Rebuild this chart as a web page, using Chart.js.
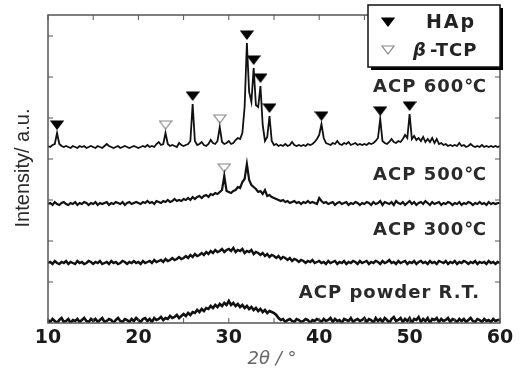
<!DOCTYPE html>
<html>
<head>
  <title>XRD patterns of ACP</title>
  <style>
    body { margin: 0; background: #fff; }
    #xrd { display: block; }
  </style>
</head>
<body>
<canvas id="xrd" width="525" height="372"></canvas>
<script src="https://cdn.jsdelivr.net/npm/chart.js"></script>
<script>
// ---------------- data (intensities, arbitrary units) ----------------
var twoThetaStart = 10;
var twoThetaStep = 0.25;

var seriesNames = ['ACP powder R.T.', 'ACP 300\u2103', 'ACP 500\u2103', 'ACP 600\u2103'];
var offsets = [2, 60, 119, 176];

var acpRT = [
  1,-1,2,0,-2,1,3,-1,0,2,-2,1,0,2,-1,1,3,0,-1,2,
  0,2,-1,1,3,-1,0,2,1,-2,1,3,0,-1,2,1,-1,2,0,3,
  1,-1,2,3,0,2,-1,3,1,2,4,1,3,2,5,3,4,6,3,5,
  7,5,8,6,9,8,11,9,12,10,13,12,15,13,16,14,17,15,18,16,
  20,16,18,15,17,14,16,13,15,12,14,11,13,10,12,9,11,8,10,9,
  8,6,3,1,2,-1,1,2,0,-1,2,1,-1,0,2,1,-2,1,0,2,
  1,-1,2,0,1,3,-1,2,0,1,-2,2,1,0,3,-1,1,2,0,1,
  3,-1,2,1,-2,3,0,2,-1,3,1,-2,2,4,0,1,3,-1,2,0,
  3,-2,2,1,4,-1,2,0,3,-2,2,1,3,-1,2,0,1,3,-1,2,
  1,-1,2,0,2,-1,1,3,0,-1,2,1,-1,2,0,1,-1,2,0,1,
  1
];

var acp300 = [
  0,1,-1,2,0,-1,1,0,2,-1,1,0,-1,2,0,1,-1,0,2,1,
  -1,1,0,2,-1,0,1,-1,2,0,1,-1,0,2,1,-1,1,0,2,0,
  1,-1,2,0,1,2,0,3,1,2,3,1,4,2,3,5,3,4,6,4,
  5,7,5,8,6,9,7,8,10,8,11,9,12,10,13,11,12,14,11,13,
  14,12,15,11,13,12,14,10,12,11,13,9,11,10,8,10,7,9,6,8,
  7,5,7,4,6,5,3,5,2,4,3,1,3,2,0,2,1,3,0,1,
  2,0,1,-1,2,0,1,2,-1,1,0,2,-1,1,0,2,1,-1,2,0,
  1,2,-1,1,0,2,1,-1,2,0,1,3,0,1,-1,2,0,1,2,-1,
  1,0,2,-1,1,2,0,1,-1,2,0,1,-1,2,1,0,2,-1,1,0,
  2,-1,1,0,2,1,-1,1,0,2,-1,1,0,1,-1,2,0,1,-1,1,
  0
];

var acp500 = [
  0,1,-1,2,0,-1,1,2,0,-1,1,0,2,-1,1,0,2,1,-1,1,
  0,2,-1,1,0,1,2,-1,1,0,2,1,0,2,-1,1,2,0,1,2,
  1,0,2,1,3,1,2,0,3,2,1,3,2,4,2,3,5,3,4,3,
  5,4,6,4,7,5,7,8,6,8,9,7,10,9,11,10,12,14,28,13,
  12,11,13,14,17,16,22,25,40,24,19,17,15,12,13,10,14,8,9,7,
  6,5,4,3,4,2,3,1,2,3,1,2,0,2,1,3,1,2,1,0,
  6,3,1,2,0,1,2,-1,1,2,0,1,2,-1,1,0,2,1,-1,1,
  0,2,1,-1,2,0,1,3,-1,2,1,0,2,-1,3,1,0,2,-1,1,
  3,0,2,-1,1,2,0,3,1,-1,2,0,1,2,-1,1,0,2,1,-1,
  1,0,2,-1,1,0,2,1,-1,1,0,2,0,1,-1,2,0,1,0,1,
  1
];

var acp600 = [
  1,0,2,3,14,3,1,0,1,0,-1,1,0,-1,1,0,1,-1,0,1,
  0,-1,1,0,-1,1,3,1,0,-1,0,1,-1,0,1,0,-1,0,1,0,
  -1,0,1,0,2,0,1,0,3,5,2,3,14,3,1,2,1,0,4,2,
  1,2,3,6,43,6,2,3,5,2,1,3,7,4,3,6,20,5,3,4,
  6,3,4,7,9,8,14,40,104,55,45,79,42,40,61,22,6,10,31,6,
  2,3,1,2,1,3,1,2,5,2,1,2,1,2,1,3,2,3,5,8,
  12,23,9,4,3,2,4,3,6,3,2,4,3,5,2,3,4,2,3,2,
  3,2,4,3,4,6,9,28,6,4,3,5,8,5,4,6,5,8,12,9,
  33,8,11,7,9,6,10,5,8,5,9,4,8,3,4,2,3,1,2,1,
  2,1,4,1,2,0,1,3,1,0,1,0,2,0,1,0,1,0,1,0,
  1
];

// reflection positions (2theta) marked on the picture
var hapPeaks = [11, 26, 32, 32.75, 33.5, 34.5, 40.25, 46.75, 50];
var tcpPeaks600 = [23, 29];
var tcpPeaks500 = [29.5];

var xTicks = [10, 20, 30, 40, 50, 60];
// ------------------------------------------------------------------------------------------

function toPoints(vals, off) {
  return vals.map(function (v, i) {
    return { x: twoThetaStart + i * twoThetaStep, y: v + off };
  });
}

function markerPoints(peaks, vals, off) {
  return peaks.map(function (p) {
    var i = Math.round((p - twoThetaStart) / twoThetaStep);
    return { x: p, y: vals[i] + off + 8 };
  });
}

function makeTri(fill, stroke) {
  var c = document.createElement('canvas');
  c.width = 14; c.height = 10;
  var g = c.getContext('2d');
  g.beginPath();
  g.moveTo(1, 1); g.lineTo(13, 1); g.lineTo(7, 9); g.closePath();
  g.fillStyle = fill; g.fill();
  g.lineWidth = 1.2; g.strokeStyle = stroke; g.stroke();
  return c;
}

var triFilled = makeTri('#000', '#000');
var triOpen = makeTri('#fff', '#888');

var lineWidths = [2.6, 2.4, 2.2, 1.8];
var allSeries = [acpRT, acp300, acp500, acp600];
var datasets = allSeries.map(function (vals, k) {
  return {
    label: seriesNames[k],
    data: toPoints(vals, offsets[k]),
    borderColor: '#111',
    borderWidth: lineWidths[k],
    pointRadius: 0,
    tension: 0
  };
});

datasets.push({
  label: 'HAp', type: 'scatter', showLine: false,
  data: markerPoints(hapPeaks, acp600, offsets[3]),
  pointStyle: triFilled, pointRadius: 7
});
datasets.push({
  label: 'beta-TCP', type: 'scatter', showLine: false,
  data: markerPoints(tcpPeaks600, acp600, offsets[3]).concat(markerPoints(tcpPeaks500, acp500, offsets[2])),
  pointStyle: triOpen, pointRadius: 7
});

// label heights above each baseline, right edges
var labelRise = [28, 33, 29, 60];
var labelRight = [480, 487, 487, 487];

var overlay = {
  id: 'overlay',
  afterDraw: function (chart) {
    var ctx = chart.ctx, a = chart.chartArea;
    var xs = chart.scales.x, ys = chart.scales.y;
    ctx.save();

    // frame + inward ticks
    ctx.strokeStyle = '#555';
    ctx.lineWidth = 1.5;
    ctx.strokeRect(a.left, a.top, a.right - a.left, a.bottom - a.top);
    ctx.lineWidth = 1;
    xs.ticks.forEach(function (t) {
      var px = xs.getPixelForValue(t.value);
      ctx.beginPath();
      ctx.moveTo(px, a.bottom); ctx.lineTo(px, a.bottom - 5);
      ctx.moveTo(px, a.top); ctx.lineTo(px, a.top + 5);
      ctx.stroke();
    });
    ys.ticks.forEach(function (t) {
      if (t.value <= ys.min || t.value >= ys.max) return;
      var py = ys.getPixelForValue(t.value);
      ctx.beginPath();
      ctx.moveTo(a.left, py); ctx.lineTo(a.left + 5, py);
      ctx.moveTo(a.right, py); ctx.lineTo(a.right - 5, py);
      ctx.stroke();
    });

    // series labels
    ctx.fillStyle = '#2a2a2a';
    ctx.font = 'bold 18px "DejaVu Sans"';
    ctx.textAlign = 'right';
    ctx.textBaseline = 'middle';
    ctx.letterSpacing = '1px';
    seriesNames.forEach(function (name, k) {
      ctx.fillText(name, labelRight[k], ys.getPixelForValue(offsets[k] + labelRise[k]));
    });

    // legend box with shadow
    var bx = 368, by = 5, bw = 132, bh = 62;
    ctx.fillStyle = '#000';
    ctx.fillRect(bx + 3, by + 3, bw, bh);
    ctx.fillStyle = '#fff';
    ctx.fillRect(bx, by, bw, bh);
    ctx.strokeStyle = '#111';
    ctx.lineWidth = 1.5;
    ctx.strokeRect(bx, by, bw, bh);
    ctx.drawImage(triFilled, 381, 17);
    ctx.drawImage(triOpen, 381, 45);
    ctx.fillStyle = '#222';
    ctx.textAlign = 'center';
    ctx.letterSpacing = '2px';
    ctx.font = 'bold 19px "DejaVu Sans"';
    ctx.fillText('HAp', 451, 23);
    ctx.letterSpacing = '1px';
    ctx.textAlign = 'left';
    ctx.font = 'italic bold 18px "DejaVu Sans"';
    ctx.fillText('\u03b2', 413, 51);
    ctx.font = 'bold 18px "DejaVu Sans"';
    ctx.fillText('-TCP', 430, 51);

    // axis titles
    ctx.letterSpacing = '0px';
    ctx.fillStyle = '#666';
    ctx.textAlign = 'center';
    ctx.font = 'italic 18px "DejaVu Sans"';
    ctx.fillText('2\u03b8 / \u00b0', 272, 359);

    ctx.fillStyle = '#2a2a2a';
    ctx.translate(23, 168);
    ctx.rotate(-Math.PI / 2);
    ctx.font = '20px "Liberation Sans"';
    ctx.fillText('Intensity/ a.u.', 0, 0);
    ctx.restore();
  }
};

var chart = new Chart(document.getElementById('xrd'), {
  type: 'line',
  data: { datasets: datasets },
  options: {
    responsive: false,
    animation: false,
    layout: { padding: { left: 0, right: 25, top: 15, bottom: 0 } },
    plugins: { legend: { display: false }, tooltip: { enabled: false } },
    scales: {
      x: {
        type: 'linear', min: 10, max: 60,
        afterFit: function (s) { s.height = 49; },
        grid: { display: false, drawTicks: false },
        border: { display: false },
        ticks: {
          stepSize: 5, padding: 4, color: '#1a1a1a', maxRotation: 0, autoSkip: false,
          font: { family: 'DejaVu Sans', weight: 'bold', size: 19 },
          callback: function (v) { return xTicks.indexOf(v) >= 0 ? v : ''; }
        }
      },
      y: {
        min: 0, max: 308,
        afterFit: function (s) { s.width = 48; },
        grid: { display: false, drawTicks: false },
        border: { display: false },
        ticks: { stepSize: 41, display: false }
      }
    }
  },
  plugins: [overlay]
});
</script>
</body>
</html>
